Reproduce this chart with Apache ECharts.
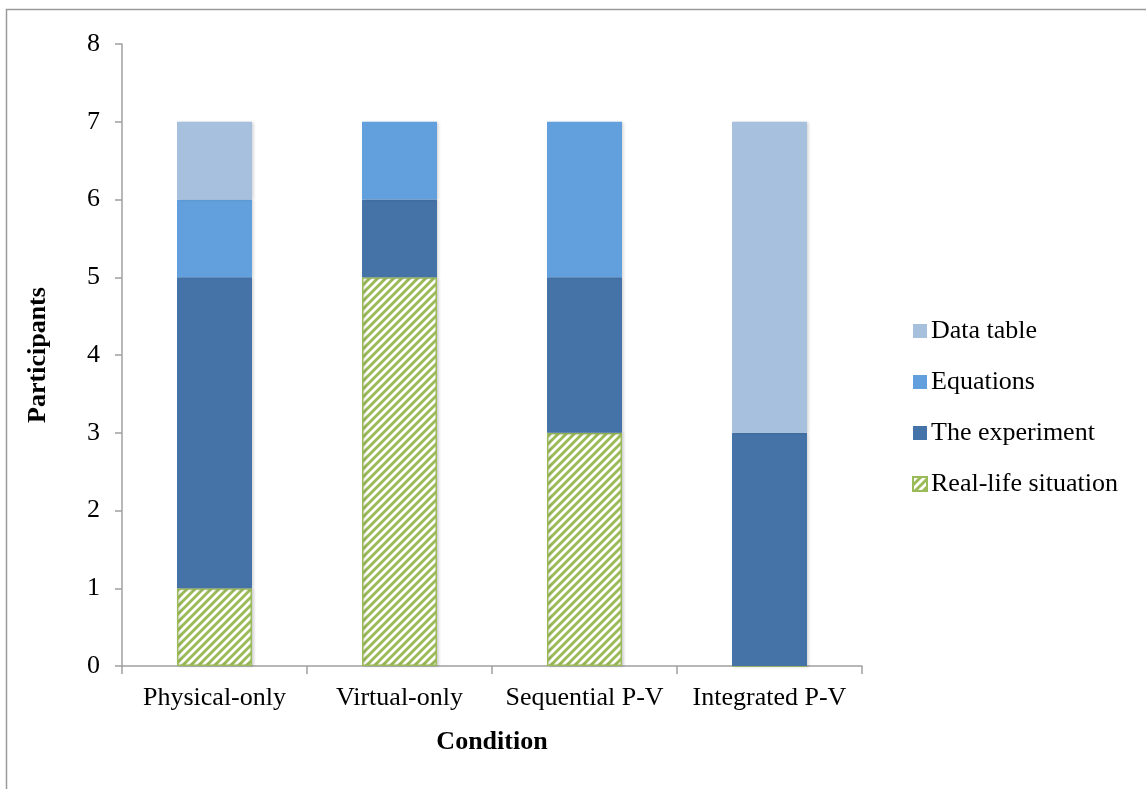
<!DOCTYPE html>
<html>
<head>
<meta charset="utf-8">
<script src="https://cdn.jsdelivr.net/npm/echarts@6/dist/echarts.min.js"></script>
<style>
  html, body { margin: 0; padding: 0; background: #fff; }
  #chart { width: 1146px; height: 789px; }
</style>
</head>
<body>
<div id="chart"></div>
<script>
// Chart data
const categories = ['Physical-only', 'Virtual-only', 'Sequential P-V', 'Integrated P-V'];
const realLife   = [1, 5, 3, 0];
const experiment = [4, 1, 2, 3];
const equations  = [1, 1, 2, 0];
const dataTable  = [1, 0, 0, 4];
const yTicks     = [0, 1, 2, 3, 4, 5, 6, 7, 8];

const FONT = '"Liberation Serif", "DejaVu Serif", serif';
const FS = 26;

// Diagonal green/white hatch fill
function hatchPattern() {
  const size = 8;
  const c = document.createElement('canvas');
  c.width = size; c.height = size;
  const ctx = c.getContext('2d');
  ctx.fillStyle = '#ffffff';
  ctx.fillRect(0, 0, size, size);
  ctx.strokeStyle = '#9BBB59';
  ctx.lineWidth = 2.9;
  ctx.beginPath();
  for (let k = -1; k <= 1; k++) {
    ctx.moveTo(k * size - 1, size + 1);
    ctx.lineTo(k * size + size + 1, -1);
  }
  ctx.stroke();
  return { image: c, repeat: 'repeat' };
}

const hatch = hatchPattern();
const shadow = { shadowBlur: 3, shadowColor: 'rgba(0,0,0,0.18)', shadowOffsetX: 1.5, shadowOffsetY: 0 };

const chart = echarts.init(document.getElementById('chart'), null, { renderer: 'canvas' });

function barSeries(name, data, itemStyle) {
  return {
    name: name,
    type: 'bar',
    stack: 'total',
    barWidth: 75,
    data: data,
    itemStyle: itemStyle,
    emphasis: { disabled: true }
  };
}

chart.setOption({
  animation: false,
  backgroundColor: '#fff',
  graphic: [{
    type: 'rect',
    shape: { x: 6.5, y: 9.5, width: 1300, height: 900 },
    style: { fill: 'none', stroke: '#9a9a9a', lineWidth: 1.5 },
    silent: true
  }],
  grid: { left: 122, right: 284, top: 44, bottom: 123, containLabel: false },
  legend: {
    orient: 'vertical',
    left: 907,
    top: 313,
    itemWidth: 14,
    itemHeight: 14,
    itemGap: 25,
    icon: 'rect',
    data: ['Data table', 'Equations', 'The experiment', 'Real-life situation'],
    textStyle: { fontFamily: FONT, fontSize: FS, color: '#000', lineHeight: 26, padding: [0, 0, 0, -1] }
  },
  xAxis: {
    type: 'category',
    data: categories,
    name: 'Condition',
    nameLocation: 'middle',
    nameGap: 63,
    nameTextStyle: { fontFamily: FONT, fontSize: FS, fontWeight: 'bold', color: '#000' },
    axisLine: { lineStyle: { color: '#a0a0a0', width: 1.5 } },
    axisTick: { show: true, length: 8, alignWithLabel: false, lineStyle: { color: '#a0a0a0', width: 1.5 } },
    axisLabel: { fontFamily: FONT, fontSize: FS, color: '#000', margin: 19, interval: 0 }
  },
  yAxis: {
    type: 'value',
    min: yTicks[0],
    max: yTicks[yTicks.length - 1],
    interval: 1,
    name: 'Participants',
    nameLocation: 'middle',
    nameGap: 71,
    nameTextStyle: { fontFamily: FONT, fontSize: FS, fontWeight: 'bold', color: '#000' },
    splitLine: { show: false },
    axisLine: { show: true, lineStyle: { color: '#a0a0a0', width: 1.5 } },
    axisTick: { show: true, length: 7, lineStyle: { color: '#a0a0a0', width: 1.5 } },
    axisLabel: { fontFamily: FONT, fontSize: FS, color: '#000', margin: 22 }
  },
  series: [
    barSeries('Real-life situation', realLife, Object.assign({ color: hatch, borderColor: '#9BBB59', borderWidth: 1.5 }, shadow)),
    barSeries('The experiment', experiment, Object.assign({ color: '#4572A7' }, shadow)),
    barSeries('Equations', equations, Object.assign({ color: '#62A0DD' }, shadow)),
    barSeries('Data table', dataTable, Object.assign({ color: '#A7C0DE' }, shadow))
  ]
});
</script>
</body>
</html>
